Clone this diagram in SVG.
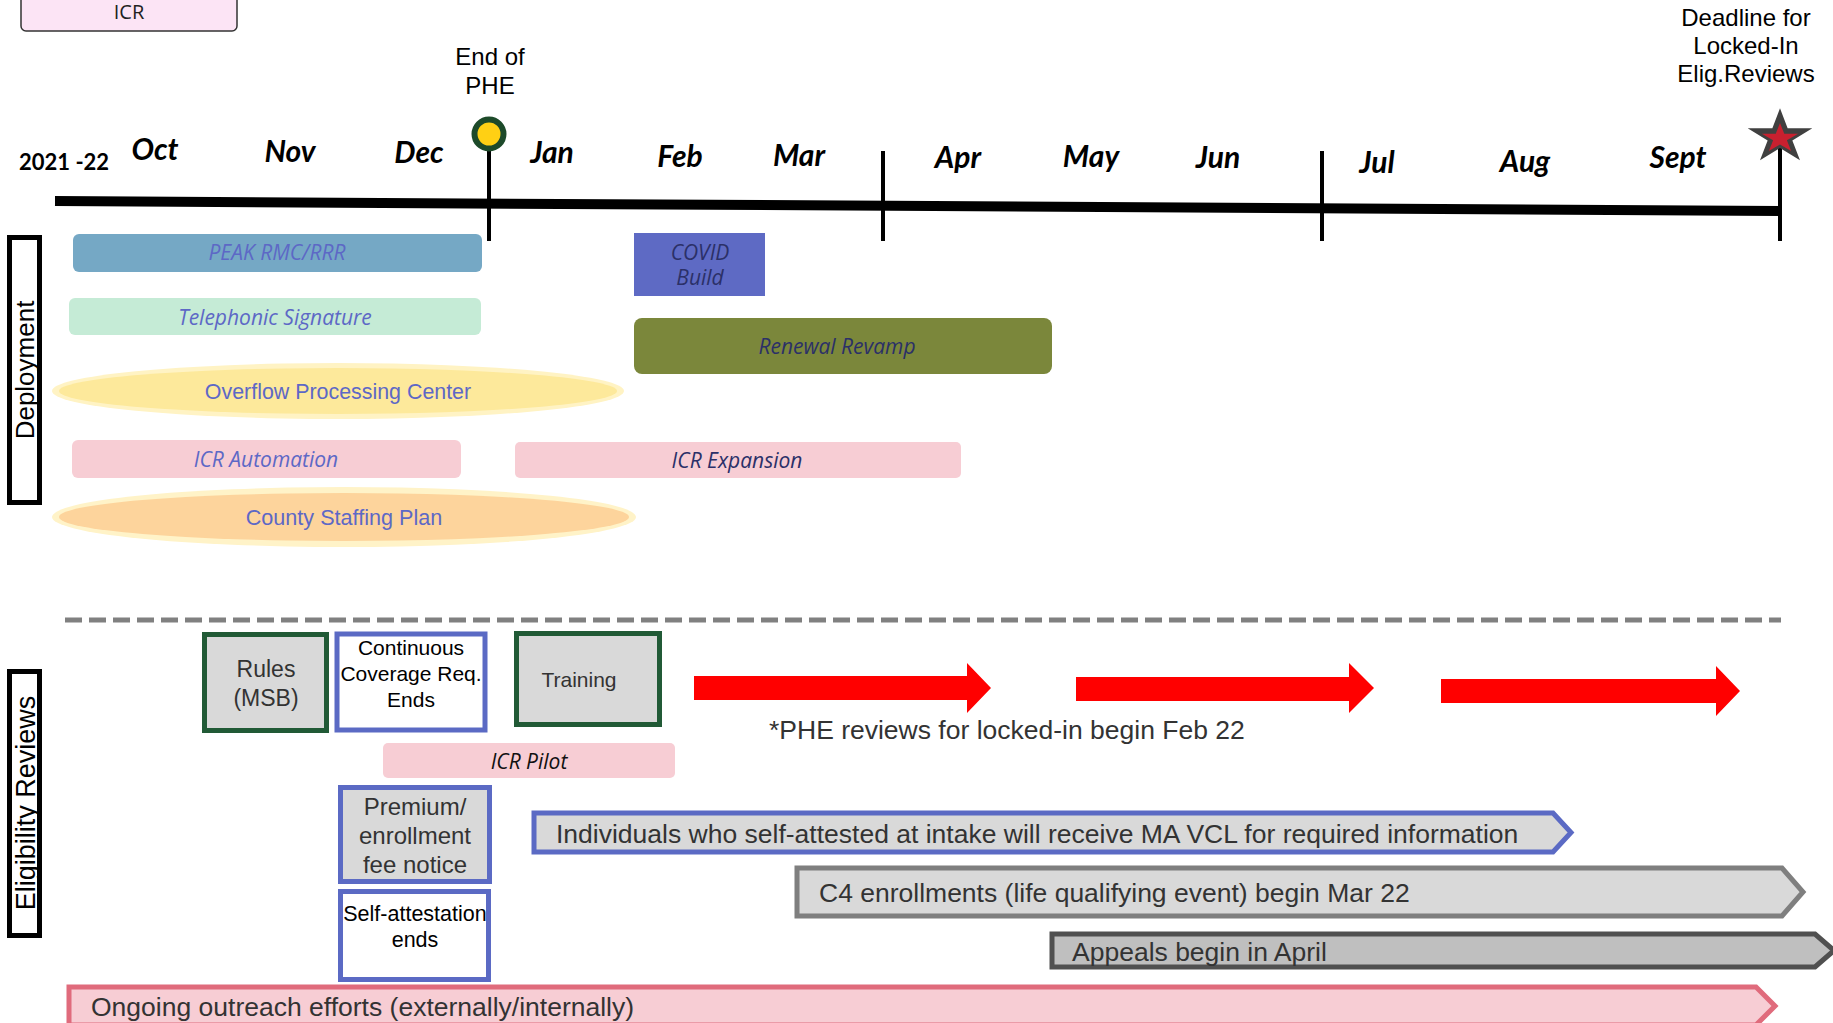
<svg xmlns="http://www.w3.org/2000/svg" width="1833" height="1023" viewBox="0 0 1833 1023">
<defs>
<style>
.mon { font-family: Lato, "Open Sans", sans-serif; font-weight: bold; font-style: italic; font-size: 30px; fill: #000; text-anchor: middle; }
.lbl { font-family: "Liberation Sans", Arial, sans-serif; text-anchor: middle; }
.it { font-family: "Open Sans", sans-serif; font-style: italic; font-size: 21px; text-anchor: middle; }
.bar { font-family: "Liberation Sans", Arial, sans-serif; font-size: 26.5px; fill: #333; }
.tick { stroke: #000; stroke-width: 4; }
.pink { fill: #f7cdd4; }
.blue-txt { fill: #5d68c6; }
.navy-txt { fill: #2b3068; }
.greenbox { fill: #d9d9d9; stroke: #215a36; stroke-width: 5; }
.bluebox { stroke: #5b6ac4; stroke-width: 5; }
.redarrow { fill: #ff0000; }
.side { fill: #fff; stroke: #000; stroke-width: 5; }
</style>
<polygon id="star" points="0,-1 0.2245,-0.309 0.951,-0.309 0.363,0.118 0.588,0.809 0,0.382 -0.588,0.809 -0.363,0.118 -0.951,-0.309 -0.2245,-0.309"/>
</defs>
<rect x="0" y="0" width="1833" height="1023" fill="#fff"/>

<g id="icr-legend">
<rect x="21" y="-6" width="216" height="37" rx="5" fill="#fce4f5" stroke="#333" stroke-width="1.5"/>
<text x="129" y="19" font-family="Open Sans, sans-serif" font-size="20" fill="#222" text-anchor="middle">ICR</text>
</g>

<g id="timeline">
<line x1="55" y1="201" x2="1780" y2="211" stroke="#000" stroke-width="10"/>
<line class="tick" x1="489" y1="134" x2="489" y2="241"/>
<line class="tick" x1="883" y1="151" x2="883" y2="241"/>
<line class="tick" x1="1322" y1="151" x2="1322" y2="241"/>
<line class="tick" x1="1780" y1="145" x2="1780" y2="241"/>
<text x="19" y="170" font-family="Lato, 'Liberation Sans', sans-serif" font-weight="bold" font-size="22" fill="#000">2021 -22</text>
<text class="mon" x="155" y="160">Oct</text>
<text class="mon" x="290" y="162">Nov</text>
<text class="mon" x="419" y="163">Dec</text>
<text class="mon" x="552" y="163">Jan</text>
<text class="mon" x="680" y="167">Feb</text>
<text class="mon" x="799" y="166">Mar</text>
<text class="mon" x="958" y="168">Apr</text>
<text class="mon" x="1091" y="167">May</text>
<text class="mon" x="1218" y="168">Jun</text>
<text class="mon" x="1377" y="173">Jul</text>
<text class="mon" x="1525" y="172">Aug</text>
<text class="mon" x="1678" y="168">Sept</text>
</g>

<g id="end-of-phe">
<circle cx="489" cy="134" r="14.5" fill="#ffd014" stroke="#1d4a2a" stroke-width="6"/>
<text class="lbl" x="490" y="65" font-size="24" fill="#000">End of</text>
<text class="lbl" x="490" y="94" font-size="24" fill="#000">PHE</text>
</g>

<g id="deadline">
<use href="#star" transform="translate(1780,137) scale(34,28.7)" fill="#404040"/>
<use href="#star" transform="translate(1780,138.5) scale(19,15.5)" fill="#c8202f"/>
<text class="lbl" x="1746" y="26" font-size="24" fill="#000">Deadline for</text>
<text class="lbl" x="1746" y="54" font-size="24" fill="#000">Locked-In</text>
<text class="lbl" x="1746" y="82" font-size="24" fill="#000">Elig.Reviews</text>
</g>

<g id="deployment-label">
<rect class="side" x="9.5" y="237.5" width="30" height="265"/>
<text class="lbl" transform="translate(34,370) rotate(-90)" font-size="26" fill="#000">Deployment</text>
</g>

<g id="peak">
<rect x="73" y="234" width="409" height="38" rx="6" fill="#75a8c5"/>
<text class="it blue-txt" x="277" y="260" font-size="22">PEAK RMC/RRR</text>
</g>
<g id="telephonic">
<rect x="69" y="298" width="412" height="37" rx="6" fill="#c5ebd6"/>
<text class="it blue-txt" x="275" y="325">Telephonic Signature</text>
</g>
<g id="overflow">
<ellipse cx="338" cy="391" rx="286" ry="28" fill="#fff3c4"/>
<ellipse cx="338" cy="391" rx="279" ry="23" fill="#fde99b"/>
<text class="lbl blue-txt" x="338" y="399" font-size="21.4">Overflow Processing Center</text>
</g>
<g id="icr-automation">
<rect class="pink" x="72" y="440" width="389" height="38" rx="6"/>
<text class="it blue-txt" x="266" y="467">ICR Automation</text>
</g>
<g id="county">
<ellipse cx="344" cy="517" rx="292" ry="30" fill="#fff3c8"/>
<ellipse cx="344" cy="517" rx="285" ry="24" fill="#fdd49c"/>
<text class="lbl blue-txt" x="344" y="525" font-size="21.6">County Staffing Plan</text>
</g>
<g id="covid">
<rect x="634" y="233" width="131" height="63" fill="#5e6ac4"/>
<text class="it navy-txt" x="700" y="260">COVID</text>
<text class="it navy-txt" x="700" y="285">Build</text>
</g>
<g id="renewal">
<rect x="634" y="318" width="418" height="56" rx="8" fill="#7b873b"/>
<text class="it navy-txt" x="837" y="354">Renewal Revamp</text>
</g>
<g id="icr-expansion">
<rect class="pink" x="515" y="442" width="446" height="36" rx="5"/>
<text class="it navy-txt" x="737" y="468">ICR Expansion</text>
</g>

<g id="divider">
<line x1="65" y1="620" x2="1781" y2="620" stroke="#808080" stroke-width="5" stroke-dasharray="17 7"/>
</g>

<g id="eligibility-label">
<rect class="side" x="9.5" y="671.5" width="30" height="264"/>
<text class="lbl" transform="translate(35,803) rotate(-90)" font-size="27" fill="#000">Eligibility Reviews</text>
</g>

<g id="rules">
<rect class="greenbox" x="204.5" y="634.5" width="122" height="96"/>
<text class="lbl" x="266" y="677" font-size="23" fill="#333">Rules</text>
<text class="lbl" x="266" y="706" font-size="23" fill="#333">(MSB)</text>
</g>
<g id="continuous">
<rect class="bluebox" x="337" y="634" width="148" height="96" fill="#fff" stroke-width="4"/>
<text class="lbl" x="411" y="655" font-size="21" fill="#000">Continuous</text>
<text class="lbl" x="411" y="681" font-size="21" fill="#000">Coverage Req.</text>
<text class="lbl" x="411" y="707" font-size="21" fill="#000">Ends</text>
</g>
<g id="training">
<rect class="greenbox" x="516.5" y="633.5" width="143" height="91"/>
<text class="lbl" x="579" y="687" font-size="21" fill="#333">Training</text>
</g>
<g id="icr-pilot">
<rect class="pink" x="383" y="743" width="292" height="35" rx="5"/>
<text class="it" x="529" y="769" fill="#111">ICR Pilot</text>
</g>
<g id="premium">
<rect class="bluebox" x="340.5" y="787.5" width="149" height="94" fill="#d9d9d9"/>
<text class="lbl" x="415" y="815" font-size="24" fill="#333">Premium/</text>
<text class="lbl" x="415" y="844" font-size="24" fill="#333">enrollment</text>
<text class="lbl" x="415" y="873" font-size="24" fill="#333">fee notice</text>
</g>
<g id="self-attestation">
<rect class="bluebox" x="340.5" y="891.5" width="148" height="88" fill="#fff"/>
<text class="lbl" x="415" y="921" font-size="21.5" fill="#000">Self-attestation</text>
<text class="lbl" x="415" y="947" font-size="21.5" fill="#000">ends</text>
</g>

<g id="connectors">
<polygon class="redarrow" points="694,676 967,676 967,663 991,688 967,713 967,700 694,700"/>
<polygon class="redarrow" points="1076,677 1349,677 1349,663 1374,688 1349,713 1349,701 1076,701"/>
<polygon class="redarrow" points="1441,679 1716,679 1716,666 1740,691 1716,716 1716,703 1441,703"/>
</g>

<g id="phe-note">
<text class="bar" x="769" y="739">*PHE reviews for locked-in begin Feb 22</text>
</g>

<g id="individuals">
<polygon points="534,813 1553,813 1571,832.5 1553,852 534,852" fill="#d9d9d9" stroke="#5b6ac4" stroke-width="5"/>
<text class="bar" x="556" y="843">Individuals who self-attested at intake will receive MA VCL for required information</text>
</g>
<g id="c4">
<polygon points="797,868 1782,868 1803,892 1782,916 797,916" fill="#d9d9d9" stroke="#7f7f7f" stroke-width="5"/>
<text class="bar" x="819" y="902">C4 enrollments (life qualifying event) begin Mar 22</text>
</g>
<g id="appeals">
<polygon points="1052,934 1815,934 1834,950.5 1815,967 1052,967" fill="#bfbfbf" stroke="#505050" stroke-width="5"/>
<text class="bar" x="1072" y="961">Appeals begin in April</text>
</g>
<g id="ongoing">
<polygon points="69,987 1756,987 1775,1006 1756,1025 69,1025" fill="#f7cdd4" stroke="#e06b7c" stroke-width="5"/>
<text class="bar" x="91" y="1016">Ongoing outreach efforts (externally/internally)</text>
</g>
</svg>
